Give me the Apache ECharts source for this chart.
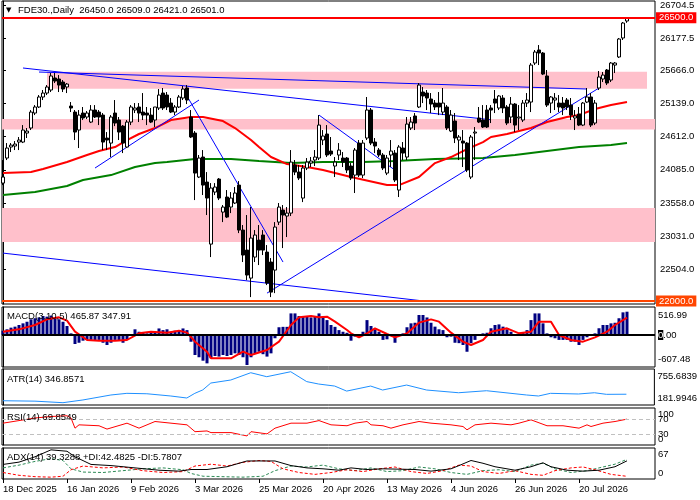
<!DOCTYPE html>
<html><head><meta charset="utf-8">
<script src="https://cdn.jsdelivr.net/npm/echarts@6/dist/echarts.min.js"></script>
<style>html,body{margin:0;padding:0;background:#fff}#c{width:700px;height:500px}</style>
</head><body><div id="c"></div>
<script>
// ---------------- data ----------------
const symbol = 'FDE30.,Daily';
const xTickIndex = [0,16,32,48,64,80,96,112,128,144];
const xTickLabels = ['18 Dec 2025','16 Jan 2026','9 Feb 2026','3 Mar 2026','25 Mar 2026','20 Apr 2026','13 May 2026','4 Jun 2026','26 Jun 2026','20 Jul 2026'];
const priceTicks = [22504.0,23031.0,23558.0,24085.0,24612.0,25139.0,25666.0,26177.5,26704.5];

const opens=[23874,24272,24447,24463,24526,24526,24669,24749,24987,25083,
25242,25305,25353,25544,25528,25480,25401,25099,25003,24717,
24987,24924,24844,25035,25003,24955,24590,24510,24987,24876,
24780,24447,24844,25035,25083,25003,24987,24955,24876,25067,
25305,25273,25146,25003,25083,25226,25385,24924,24669,23970,
24288,23890,22904,23731,23938,23413,23652,23493,23557,23842,
23127,22809,22364,22698,22968,23048,22777,22619,22491,23254,
23445,23350,23397,24161,24049,23636,24113,24192,24240,24272,
24558,24654,24383,24145,24320,24272,24272,24145,24001,24510,
24001,24590,25035,24526,24399,24320,24033,24320,24351,23763,
24431,24288,24749,24940,25083,25321,25305,25210,25146,25146,
25003,25083,24701,24860,24558,24542,24510,23970,24669,24908,
24876,25035,25067,25210,25067,25226,25083,24924,25130,24908,
24876,25146,25162,25782,25989,25941,25576,25146,25194,25146,
25146,25194,25114,24908,24972,24796,25162,25242,24828,25385,
25528,25671,25512,25750,25878,26180,26450];
const closes=[23970,24431,24478,24494,24558,24717,24701,25003,25083,25242,
25305,25401,25576,25496,25432,25369,25448,25067,24685,24955,
24908,24987,25035,24924,24924,24526,24558,24924,24828,24685,
24510,24844,25083,25067,24987,24955,24955,24844,25083,25273,
25067,25083,25003,25083,25242,25369,25194,24606,24033,24272,
23842,23636,23795,23811,23636,23493,23334,23636,23716,23127,
22730,22412,23000,23048,22809,22809,22284,22141,23175,23493,
23366,23397,24208,24049,23954,24113,24208,24224,24288,24796,
24622,24320,24335,24208,24399,24208,24081,23954,24399,24001,
24510,25035,24510,24463,24320,24113,24272,24383,23922,24447,
24351,24812,24844,24828,25432,25258,25226,25130,25083,25083,
25146,24749,24955,24590,24606,24510,24081,24606,24685,24844,
24765,24765,25035,25146,25258,25067,24828,25130,24796,24924,
25146,25194,25750,25957,25941,25607,25114,25242,25226,25083,
25067,25083,24955,24940,24796,25146,25242,24796,25146,25560,
25591,25464,25782,25782,26164,26418,26501];
const lows=[23842,24240,24367,24399,24399,24510,24590,24717,24955,25067,
25194,25273,25321,25464,25321,25321,25305,25003,24558,24431,
24876,24892,24828,24908,24796,24399,24399,24288,24780,24558,
24351,24431,24796,24987,24844,24876,24796,24828,24765,25035,
25035,25035,24987,24955,25067,25194,25130,24590,23604,23954,
23684,23366,22698,23684,23604,23254,23318,23397,23541,23079,
22619,22332,22062,22619,22571,22730,22253,22062,22125,23207,
22841,23016,23350,24001,23922,23572,24081,24129,24145,24240,
24478,24288,24304,23970,24240,24129,24033,23922,23716,23970,
23954,24558,24478,24351,24288,24081,24001,24129,23890,23652,
24240,24240,24717,24717,25067,25146,25035,24987,25035,24955,
24955,24717,24685,24510,24240,24129,24049,23938,24240,24828,
24749,24749,24828,24987,25035,24987,24796,24828,24685,24717,
24844,25083,25003,25750,25750,25591,25083,24987,25035,25003,
24955,25035,24876,24717,24780,24780,25146,24765,24796,25353,
25480,25432,25480,25623,25862,26148,26421];
const highs=[24240,24510,24510,24542,24606,24796,24749,25035,25114,25273,
25353,25432,25623,25623,25591,25512,25464,25162,25035,25035,
25083,25019,25114,25114,25035,24987,24685,24955,25194,24924,
24796,24876,25114,25146,25146,25305,25083,25067,25083,25369,
25385,25321,25226,25114,25273,25417,25432,25035,24701,24320,
24399,24049,23874,23874,23954,23525,23763,23731,23811,23906,
23207,23366,23493,23127,23207,23127,22889,22682,23254,23557,
23525,23493,24399,24240,24161,24161,24272,24288,24399,24955,
24717,24796,24606,24288,24510,24367,24288,24192,24431,24558,
24558,25242,25067,24590,24431,24351,24320,24558,24399,24478,
24526,24924,24924,24987,25464,25401,25353,25305,25194,25321,
25385,25114,25035,24987,24638,24717,24526,24638,24765,25083,
25114,25114,25114,25353,25273,25273,25114,25242,25146,25114,
25194,25305,25782,25989,26068,25957,25671,25258,25305,25273,
25242,25226,25226,25035,25083,25162,25385,25305,25194,25655,
25639,25687,25798,25798,26180,26434,26509];

// moving averages: [bar index, value]
const maRed=[[0,24033],[7,24049],[10,24097],[16,24208],[21,24320],[24,24383],[28,24447],[31,24558],[34,24654],[38,24749],[42,24876],[47,24924],[50,24924],[55,24860],[58,24749],[62,24558],[64,24447],[67,24288],[71,24176],[76,24129],[80,24081],[87,23970],[96,23842],[99,23842],[104,23970],[108,24192],[112,24288],[116,24415],[120,24526],[122,24606],[126,24653],[132,24749],[136,24844],[141,24924],[144,24955],[148,25051],[152,25114],[156,25162]];
const maGreen=[[0,23684],[8,23731],[16,23827],[20,23922],[27,24001],[33,24129],[38,24192],[41,24208],[48,24256],[57,24256],[64,24224],[72,24192],[80,24208],[90,24208],[98,24224],[108,24256],[120,24272],[128,24320],[136,24383],[144,24447],[152,24478],[156,24510]];

// trend lines: start and end points [bar index, price]
const trendLines=[
 [[5,25703],[122,24880]],
 [[9,25639],[146,25369]],
 [[23,24113],[49,25194]],
 [[46,25258],[70,22619]],
 [[0,22761],[105,22001]],
 [[66,22125],[149,25385]],
 [[79,24955],[99,24033]]
];
// zones: [low, high, fromBar, toBar]
const zones=[[25372,25644,11,161],[24725,24892,null,null],[22936,23477,null,null]];
const levels=[26500,22000];

const macdHist=[86,114,147,167,200,233,265,314,335,351,
380,367,388,351,314,265,180,33,-180,-155,
-114,-98,-98,-114,-98,-155,-200,-155,-98,-114,
-155,-98,-20,114,65,53,33,45,65,131,
98,114,65,86,98,131,98,-135,-400,-445,
-514,-567,-465,-420,-432,-400,-420,-400,-367,-400,
-445,-600,-445,-367,-335,-384,-432,-367,-65,155,
163,163,432,432,380,367,367,351,380,432,
367,298,200,163,98,65,45,-114,-33,-45,
65,298,180,114,65,-98,-86,10,-155,5,
33,155,233,245,400,400,351,245,167,114,
98,-45,-33,-155,-163,-200,-335,-163,-98,-20,
33,45,135,200,212,167,114,65,-20,-20,
45,98,298,432,432,233,33,-45,-65,-98,
-98,-98,-135,-135,-200,-98,-45,-20,33,135,
200,200,233,245,335,453,466];
const macdSignal=[[0,67],[4,113],[8,200],[11,313],[14,353],[16,287],[18,67],[21,-100],[24,-113],[28,-113],[31,-100],[34,33],[37,67],[41,47],[44,87],[46,47],[48,-133],[51,-333],[52,-467],[57,-467],[60,-333],[62,-400],[66,-300],[69,-133],[72,200],[74,353],[77,380],[79,353],[81,367],[83,267],[86,100],[87,33],[89,-47],[91,33],[93,133],[96,20],[98,-47],[101,33],[104,247],[107,313],[109,267],[112,47],[115,-133],[117,-200],[120,-100],[122,67],[126,133],[129,33],[132,67],[134,267],[137,267],[139,0],[142,-100],[145,-133],[148,-47],[151,67],[153,200],[156,348]];
const macdTicks=[-607.48,0,516.99];

const atr=[[0,237],[8,230],[15,204],[20,250],[27,334],[31,362],[36,355],[42,317],[46,283],[48,362],[50,420],[52,536],[57,587],[62,710],[66,643],[72,727],[76,560],[79,519],[83,485],[86,400],[92,485],[95,418],[101,502],[106,418],[114,372],[121,406],[131,334],[134,317],[137,362],[144,351],[148,372],[151,345],[156,347]];
const atrTicks=[181.9946,755.6839];

const rsi=[[0,59],[4,66],[8,73],[12,77],[16,79],[17,73],[18,45.5],[19,54.5],[24,52],[26,43],[31,59],[34,45.5],[38,63.5],[42,59],[46,54.5],[48,36],[51,38],[52,33.5],[57,33.5],[61,24.5],[62,36],[66,30],[68,45.5],[72,59],[76,59],[79,66],[82,54.5],[86,52],[88,59],[91,63.5],[92,54.5],[95,52],[97,45.5],[100,54.5],[104,63.5],[107,59],[112,54.5],[115,50],[116,41],[118,54.5],[122,59],[127,54.5],[129,59],[132,68],[136,52],[140,52],[144,45.5],[146,54.5],[147,50],[150,59],[153,63.5],[156,69.85]];
const rsiLevels=[30,70];
const rsiBounds=[0,100];

const adx=[[0,31.5],[4,36.5],[8,48],[12,63],[16,60],[18,48],[22,31.5],[27,29],[33,24],[39,19],[44,17],[47,20.5],[51,20.5],[56,26.5],[61,39],[65,39],[68,39],[72,29],[76,24],[80,22],[84,19],[87,24],[91,20.5],[95,22],[103,20.5],[107,17],[112,22],[114,29],[117,40],[120,34],[123,26.5],[128,19],[132,26.5],[135,35],[137,26.5],[141,19],[145,17],[149,19],[153,26.5],[156,39.3]];
const plusDI=[[0,24],[4,30],[8,38],[12,44],[15,40],[17,22],[20,15],[25,14],[30,18],[35,22],[40,24],[45,20],[47,12],[50,6],[55,5],[60,4],[65,6],[68,18],[72,28],[76,26],[80,30],[84,22],[88,18],[92,24],[96,16],[100,18],[104,26],[108,22],[112,14],[116,10],[120,18],[124,20],[128,16],[132,30],[135,34],[138,22],[142,14],[146,18],[150,26],[153,32],[156,42.5]];
const minusDI=[[0,14],[4,8],[8,5],[12,4],[15,6],[17,20],[20,28],[25,24],[30,26],[35,18],[40,14],[45,16],[48,28],[52,32],[56,28],[60,36],[64,40],[67,38],[70,22],[74,14],[78,10],[82,14],[86,20],[90,16],[94,22],[98,26],[102,16],[106,12],[110,18],[114,30],[117,28],[120,16],[124,12],[128,18],[132,10],[135,8],[138,18],[142,24],[145,26],[148,20],[152,10],[156,5.8]];
const adxTicks=[0,67];

// ---------------- chart ----------------
const FONT='Liberation Sans', FS=9.5;
const XMIN=-0.25, XMAX=163;
const n=opens.length;
const candles=opens.map((o,i)=>[i,o,closes[i],lows[i],highs[i]]);

const gridDefs=[[1,303],[307,60],[369,36],[408,37],[448,31]];
const grid=gridDefs.map(([t,h])=>({left:2,top:t,width:653,height:h,show:true,borderColor:'#000',borderWidth:1,backgroundColor:'transparent'}));
const xAxis=gridDefs.map((g,k)=>({type:'value',gridIndex:k,min:XMIN,max:XMAX,show:k===4,
  axisLine:{show:false},splitLine:{show:false},
  axisTick:{show:k===4,length:4,lineStyle:{color:'#000'},customValues:xTickIndex},
  axisLabel:{show:k===4,customValues:xTickIndex,align:'left',margin:5,color:'#000',fontFamily:FONT,fontSize:FS,
    showMinLabel:true,showMaxLabel:true,hideOverlap:false,
    formatter:v=>xTickLabels[xTickIndex.indexOf(v)]}}));

const shiftRich={dn:{padding:[12,0,0,0],fontFamily:FONT,fontSize:FS,color:'#000'},up:{padding:[0,0,12,0],fontFamily:FONT,fontSize:FS,color:'#000'},
  z:{backgroundColor:'#000',color:'#fff',fontFamily:FONT,fontSize:FS},n:{fontFamily:FONT,fontSize:FS,color:'#000'}};
function yAx(k,min,max,ticks,fmt,showTick,noLine){
  return {type:'value',gridIndex:k,position:'right',min,max,
    axisLine:{show:!noLine,lineStyle:{color:'#000'}},splitLine:{show:false},
    axisTick:{show:!!showTick,length:3,customValues:ticks,lineStyle:{color:'#000'}},
    axisLabel:{customValues:ticks,margin:showTick?5:3,color:'#000',fontFamily:FONT,fontSize:FS,formatter:fmt,rich:shiftRich,
      showMinLabel:true,showMaxLabel:true,hideOverlap:false}};
}
const yAxis=[
  yAx(0,21952,26768,priceTicks,v=>v.toFixed(1),true),
  yAx(1,-640,560,macdTicks,v=>v===0?'{z|0}{n|.00}':(v>0?'{dn|'+v.toFixed(2)+'}':'{up|'+v.toFixed(2)+'}')),
  yAx(2,165,773,atrTicks,v=>v>400?'{dn|'+v.toFixed(4)+'}':'{up|'+v.toFixed(4)+'}'),
  yAx(3,0,100,rsiLevels,v=>String(v)),
  yAx(4,0,67,adxTicks,v=>v===67?'{dn|67}':'{up|0}'),
  yAx(3,0,100,rsiBounds,v=>v===100?'{dn|100}':'{up|0}',false,true)
];

const lineS=(data,color,width,xi,extra)=>Object.assign({type:'line',data,xAxisIndex:xi,yAxisIndex:xi,showSymbol:false,symbol:'none',
  lineStyle:{color,width},silent:true,animation:false},extra||{});

const series=[
  // zones
  {type:'line',data:[],xAxisIndex:0,yAxisIndex:0,z:0,silent:true,
   markArea:{silent:true,itemStyle:{color:'#ffc0cb'},
     data:zones.map(([lo,hi,a,b])=>a===null?[{yAxis:lo},{yAxis:hi}]:[{xAxis:a,yAxis:lo},{xAxis:b,yAxis:hi}])}},
  lineS(maGreen,'#008000',2,0,{z:2}),
  lineS(maRed,'#ff0000',2,0,{z:2}),
  ...trendLines.map(t=>lineS(t,'#0000ff',1,0,{z:3})),
  {type:'candlestick',data:candles,xAxisIndex:0,yAxisIndex:0,barWidth:3,z:4,silent:true,
   itemStyle:{color:'#ffffff',color0:'#000000',borderColor:'#000000',borderColor0:'#000000',borderWidth:1}},
  {type:'line',data:[],xAxisIndex:0,yAxisIndex:0,z:6,silent:true,
   markLine:{silent:true,symbol:'none',animation:false,
     data:levels.map((lv,k)=>{const col=k===0?'#ff0000':'#ff4500';
       return {yAxis:lv,lineStyle:{color:col,width:2,type:'solid'},
        label:{show:true,position:'end',distance:1,formatter:lv.toFixed(1),backgroundColor:col,color:'#fff',padding:[1,3,0,3],fontFamily:FONT,fontSize:FS}};})}},
  // MACD
  {type:'bar',data:macdHist.map((v,i)=>[i,v]),xAxisIndex:1,yAxisIndex:1,barWidth:3,itemStyle:{color:'#000080'},silent:true,
   markLine:{silent:true,symbol:'none',label:{show:false},data:[{yAxis:0}],lineStyle:{color:'#000',width:2,type:'solid'}}},
  lineS(macdSignal,'#ff0000',2,1,{z:3}),
  // ATR
  lineS(atr,'#1e90ff',1,2),
  // RSI
  lineS(rsi,'#ff0000',1,3,{markLine:{silent:true,symbol:'none',label:{show:false},data:rsiLevels.map(v=>({yAxis:v})),lineStyle:{color:'#c0c0c0',width:1,type:[4,3]}}}),
  // ADX
  lineS(plusDI,'#2e8b57',1,4,{lineStyle:{color:'#2e8b57',width:1,type:[3,2]}}),
  lineS(minusDI,'#ff0000',1,4,{lineStyle:{color:'#ff0000',width:1,type:[3,2]}}),
  lineS(adx,'#000000',1,4,{z:3})
];

const last=n-1;
const header=symbol+'  '+[opens[last],highs[last],lows[last],closes[last]].map(v=>v.toFixed(1)).join(' ');
const txt=(x,y,text)=>({type:'text',x,y,z:100,silent:true,style:{text,fill:'#000',font:FS+'px "'+FONT+'"',verticalAlign:'middle'}});
const graphic=[
  {type:'text',x:6,y:10,z:100,silent:true,style:{text:'▼',fill:'#000',font:'7px "DejaVu Sans"',verticalAlign:'middle'}},
  txt(18,10,header),
  txt(7,316,'MACD(3,10,5) 465.87 347.91'),
  txt(7,379,'ATR(14) 346.8571'),
  txt(7,417,'RSI(14) 69.8549'),
  txt(7,457,'ADX(14) 39.3288 +DI:42.4825 -DI:5.7807')
];

const chart=echarts.init(document.getElementById('c'));
chart.setOption({animation:false,backgroundColor:'#fff',textStyle:{fontFamily:FONT},grid,xAxis,yAxis,series,graphic});
</script></body></html>
